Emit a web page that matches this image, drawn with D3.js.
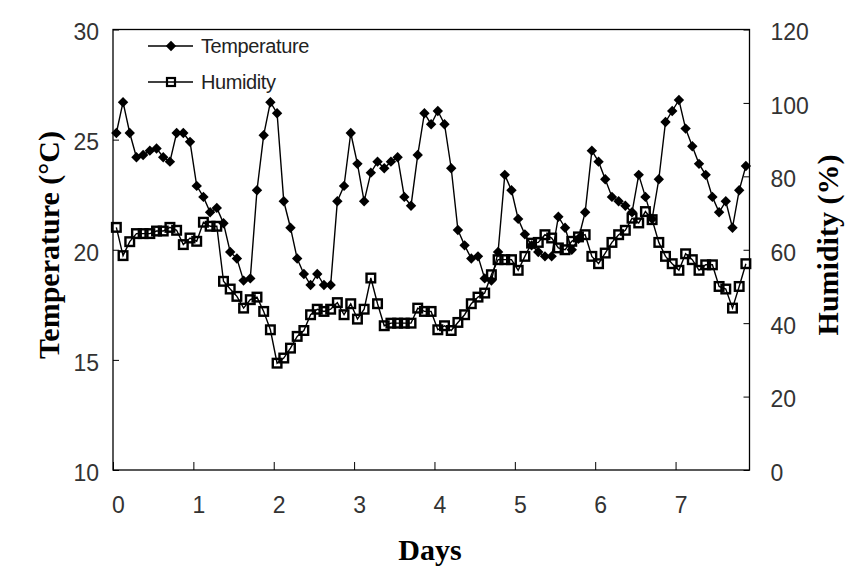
<!DOCTYPE html>
<html>
<head>
<meta charset="utf-8">
<script src="https://cdn.jsdelivr.net/npm/d3@7"></script>
<style>
  body { margin: 0; background: #fff; }
  .tick text { font-family: "Liberation Sans", Arial, sans-serif; font-size: 23px; fill: #333; }
  .axis-title { font-family: "Liberation Serif", "Times New Roman", serif; font-weight: bold; font-size: 30px; fill: #000; }
  .legend-label { font-family: "Liberation Sans", Arial, sans-serif; font-size: 20px; fill: #222; }
</style>
</head>
<body>
<div id="chart"></div>
<script>
// Readings every 2 hours, first one at hour 1
const firstHour = 1;
const stepHours = 2;

const temperature = [
    25.3, 26.7, 25.3, 24.2, 24.3, 24.5, 24.6, 24.2, 24.0, 25.3, 25.3, 24.9,
    22.9, 22.4, 21.7, 21.9, 21.2, 19.9, 19.6, 18.6, 18.7, 22.7, 25.2, 26.7,
    26.2, 22.2, 21.0, 19.6, 18.9, 18.4, 18.9, 18.4, 18.4, 22.2, 22.9, 25.3,
    23.9, 22.2, 23.5, 24.0, 23.7, 24.0, 24.2, 22.4, 22.0, 24.3, 26.2, 25.7,
    26.3, 25.7, 23.7, 20.9, 20.2, 19.6, 19.7, 18.7, 18.6, 19.9, 23.4, 22.7,
    21.4, 20.7, 20.2, 19.9, 19.7, 19.7, 21.5, 21.0, 20.0, 20.5, 21.7, 24.5,
    24.0, 23.2, 22.4, 22.2, 22.0, 21.7, 23.4, 22.4, 21.4, 23.2, 25.8, 26.3,
    26.8, 25.5, 24.7, 23.9, 23.4, 22.4, 21.7, 22.2, 21.0, 22.7, 23.8
];

const humidity = [
    66.1, 58.4, 62.2, 64.4, 64.4, 64.4, 65.1, 65.1, 66.1, 65.3, 61.4, 63.2,
    62.3, 67.5, 66.4, 66.4, 51.4, 49.3, 47.3, 44.1, 46.4, 47.1, 43.2, 38.2,
    29.1, 30.5, 33.2, 36.4, 38.0, 42.3, 43.8, 43.2, 43.8, 45.6, 42.3, 45.3,
    41.1, 43.8, 52.3, 45.3, 39.3, 40.0, 40.0, 40.0, 40.0, 44.1, 43.2, 43.2,
    38.2, 39.3, 38.0, 40.2, 42.3, 45.3, 47.1, 48.2, 53.2, 57.3, 57.3, 57.3,
    54.4, 58.2, 61.8, 62.0, 64.1, 63.2, 60.5, 60.0, 62.3, 63.5, 64.1, 58.2,
    56.2, 59.1, 62.0, 64.1, 65.3, 68.6, 67.3, 70.4, 68.2, 62.0, 58.2, 56.2,
    54.4, 58.9, 57.3, 54.4, 55.9, 55.9, 50.0, 49.3, 44.1, 50.0, 56.2
];

const dayTicks = [0, 1, 2, 3, 4, 5, 6, 7];
const tempTicks = [10, 15, 20, 25, 30];
const humTicks = [0, 20, 40, 60, 80, 100, 120];
const seriesNames = ['Temperature', 'Humidity'];

const width = 866;
const height = 576;
const plot = { left: 113, right: 749.5, top: 29.5, bottom: 470 };

const svg = d3.select('#chart')
    .append('svg')
    .attr('width', width)
    .attr('height', height);

// Scales
const x = d3.scaleLinear().domain([0, 7.92]).range([plot.left, plot.right]);
const yT = d3.scaleLinear().domain([10, 30]).range([plot.bottom, plot.top]);
const yH = d3.scaleLinear().domain([0, 120]).range([plot.bottom, plot.top]);

const dayOf = i => (firstHour + i * stepHours) / 24;

// Axes (ticks point inward)
const xAxis = svg.append('g')
    .attr('transform', `translate(0, ${plot.bottom})`)
    .call(d3.axisBottom(x).tickValues(dayTicks).tickFormat(d3.format('d'))
        .tickSizeInner(-8).tickSizeOuter(0).tickPadding(27));
xAxis.selectAll('text').attr('dx', 5);

const leftAxis = svg.append('g')
    .attr('transform', `translate(${plot.left}, 0)`)
    .call(d3.axisLeft(yT).tickValues(tempTicks)
        .tickSizeInner(-6).tickSizeOuter(0).tickPadding(14));
leftAxis.selectAll('text').attr('dy', '0.45em');

const rightAxis = svg.append('g')
    .attr('transform', `translate(${plot.right}, 0)`)
    .call(d3.axisRight(yH).tickValues(humTicks)
        .tickSizeInner(-6).tickSizeOuter(0).tickPadding(21));
rightAxis.selectAll('text').attr('dy', '0.45em');

svg.selectAll('.domain').remove();
svg.selectAll('.tick line').style('stroke', '#000').style('stroke-width', 1);

// Plot frame
svg.append('rect')
    .attr('x', plot.left)
    .attr('y', plot.top)
    .attr('width', plot.right - plot.left)
    .attr('height', plot.bottom - plot.top)
    .style('fill', 'none')
    .style('stroke', '#000')
    .style('stroke-width', 1.3);

// Axis titles
svg.append('text')
    .attr('class', 'axis-title')
    .attr('text-anchor', 'middle')
    .attr('transform', 'translate(59, 245) rotate(-90)')
    .text('Temperature (°C)');

svg.append('text')
    .attr('class', 'axis-title')
    .attr('text-anchor', 'middle')
    .attr('transform', 'translate(838, 245) rotate(-90)')
    .text('Humidity (%)');

svg.append('text')
    .attr('class', 'axis-title')
    .attr('text-anchor', 'middle')
    .attr('x', 430)
    .attr('y', 560)
    .text('Days');

const diamond = r => `M0,${-r}L${r},0L0,${r}L${-r},0Z`;

// Temperature series
svg.append('path')
    .datum(temperature)
    .attr('d', d3.line().x((d, i) => x(dayOf(i))).y(d => yT(d)))
    .style('fill', 'none')
    .style('stroke', '#000')
    .style('stroke-width', 1.4);

svg.selectAll('.temp-mark')
    .data(temperature)
    .enter()
    .append('path')
    .attr('class', 'temp-mark')
    .attr('transform', (d, i) => `translate(${x(dayOf(i))}, ${yT(d)})`)
    .attr('d', diamond(5.2))
    .style('fill', '#000');

// Humidity series
svg.append('path')
    .datum(humidity)
    .attr('d', d3.line().x((d, i) => x(dayOf(i))).y(d => yH(d)))
    .style('fill', 'none')
    .style('stroke', '#000')
    .style('stroke-width', 1.4);

svg.selectAll('.hum-mark')
    .data(humidity)
    .enter()
    .append('rect')
    .attr('class', 'hum-mark')
    .attr('x', (d, i) => x(dayOf(i)) - 4.3)
    .attr('y', d => yH(d) - 4.3)
    .attr('width', 8.6)
    .attr('height', 8.6)
    .style('fill', 'none')
    .style('stroke', '#000')
    .style('stroke-width', 2.4);

// Legend
const legend = svg.append('g').attr('transform', 'translate(148, 46)');
seriesNames.forEach((name, i) => {
    const g = legend.append('g').attr('transform', `translate(0, ${i * 36})`);
    g.append('line')
        .attr('x1', 0).attr('x2', 45)
        .style('stroke', '#000')
        .style('stroke-width', 1.6);
    if (i === 0) {
        g.append('path')
            .attr('transform', 'translate(23, 0)')
            .attr('d', diamond(5.2))
            .style('fill', '#000');
    } else {
        g.append('rect')
            .attr('x', 19).attr('y', -4)
            .attr('width', 8).attr('height', 8)
            .style('fill', 'none')
            .style('stroke', '#000')
            .style('stroke-width', 2.2);
    }
    g.append('text')
        .attr('class', 'legend-label')
        .attr('x', 53)
        .attr('y', 7)
        .style('letter-spacing', '-0.4px')
        .text(name);
});
</script>
</body>
</html>
